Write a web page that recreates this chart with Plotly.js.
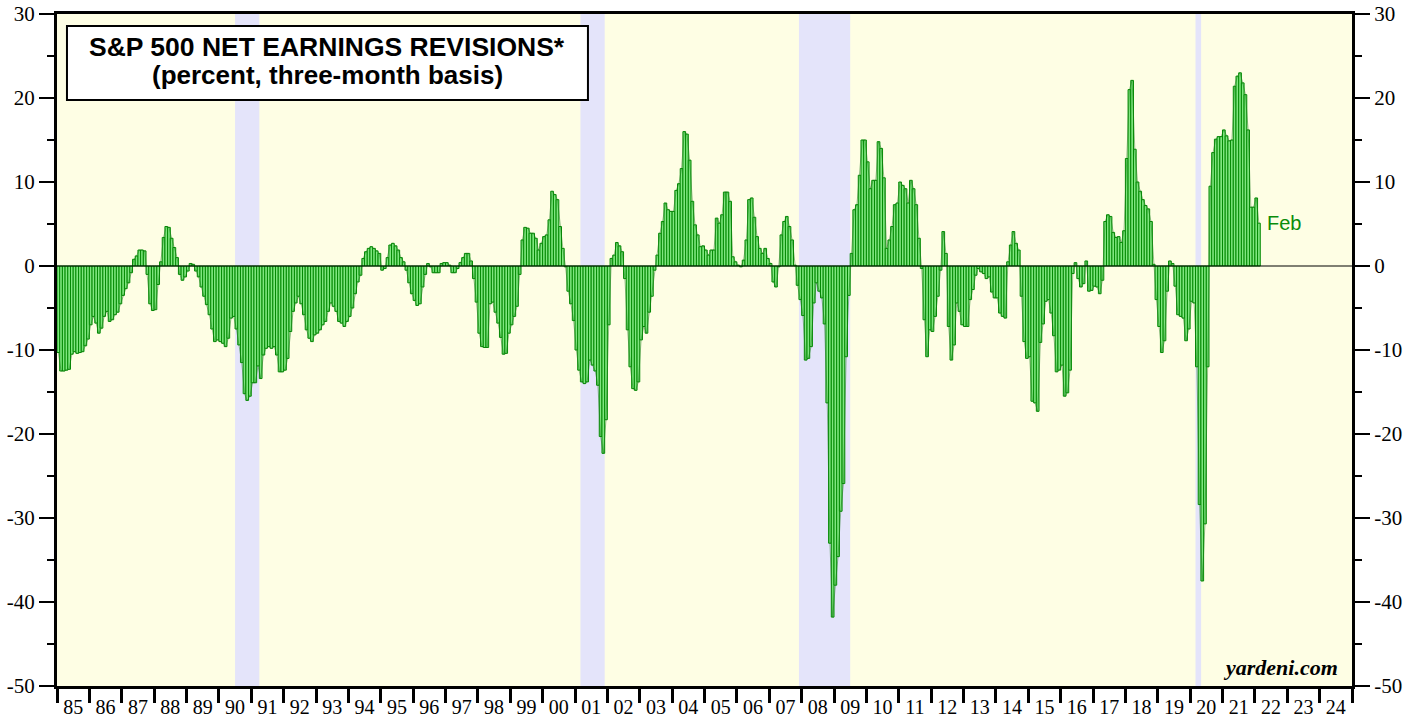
<!DOCTYPE html>
<html>
<head>
<meta charset="utf-8">
<script src="https://cdn.plot.ly/plotly-3.0.1.min.js"></script>
<style>
  html, body { margin: 0; padding: 0; background: #ffffff; }
  #chart { width: 1417px; height: 719px; }
</style>
</head>
<body>
<div id="chart"></div>
<script>
// Monthly S&P 500 net earnings revisions (percent, three-month basis), Jan 1985 - Feb 2022
const rev1985 = [-10.3, -12.5, -12.5, -12.4, -12.3, -10.5, -10.2, -10.4, -10.3, -10.2, -9.5, -8.7];
const rev1986 = [-7.0, -6.0, -6.8, -8.0, -7.4, -6.0, -5.4, -6.6, -6.4, -5.8, -5.5, -4.5];
const rev1987 = [-3.5, -2.7, -2.0, -0.8, 0.8, 1.2, 1.9, 1.9, 1.8, -1.0, -4.5, -5.3];
const rev1988 = [-5.2, -2.2, 0.5, 3.4, 4.7, 4.6, 3.3, 2.2, 1.0, -1.0, -1.7, -1.3];
const rev1989 = [-0.6, 0.3, 0.2, -0.6, -1.3, -2.5, -3.6, -4.6, -5.8, -7.5, -9.0, -8.8];
const rev1990 = [-9.0, -9.2, -9.6, -8.6, -6.2, -6.0, -7.5, -9.4, -11.5, -15.2, -16.0, -15.5];
const rev1991 = [-13.9, -13.9, -11.9, -13.4, -10.6, -9.8, -9.6, -9.8, -9.6, -10.6, -12.6, -12.6];
const rev1992 = [-12.4, -11.0, -7.8, -5.4, -4.4, -3.6, -4.5, -5.8, -7.6, -8.6, -9.0, -8.2];
const rev1993 = [-8.0, -7.6, -7.0, -6.6, -5.4, -4.4, -4.8, -5.4, -6.6, -6.8, -7.2, -6.6];
const rev1994 = [-6.0, -5.0, -3.3, -1.9, -1.1, 0.9, 1.7, 2.1, 2.3, 2.1, 1.8, 1.5];
const rev1995 = [-0.5, -0.3, 1.0, 2.5, 2.7, 2.4, 1.9, 1.0, 0.5, -0.5, -2.0, -3.3];
const rev1996 = [-4.1, -4.7, -4.5, -2.5, -1.0, 0.3, -0.1, -0.8, -0.8, -0.8, 0.3, 0.4];
const rev1997 = [0.4, 0.1, -0.8, -0.8, -0.3, 0.4, 1.0, 1.5, 1.5, 0.6, -1.5, -4.3];
const rev1998 = [-8.0, -9.6, -9.7, -9.7, -4.5, -4.3, -5.5, -6.8, -8.5, -10.5, -10.4, -8.0];
const rev1999 = [-7.0, -6.0, -4.8, -1.0, 3.1, 4.6, 4.5, 3.9, 3.9, 3.3, 1.9, 2.7];
const rev2000 = [3.5, 3.7, 5.5, 8.9, 8.5, 7.9, 4.7, 2.1, -0.1, -3.0, -4.5, -6.5];
const rev2001 = [-10.0, -12.4, -13.8, -14.0, -13.8, -11.2, -11.8, -12.5, -14.2, -20.3, -22.3, -18.3];
const rev2002 = [-7.0, 0.9, 1.3, 2.8, 2.4, 1.7, -1.5, -7.6, -12.0, -14.6, -14.8, -13.8];
const rev2003 = [-8.8, -7.2, -8.0, -5.5, -3.6, -0.5, 1.3, 3.9, 5.3, 7.5, 6.7, 6.5];
const rev2004 = [6.5, 9.0, 9.8, 11.6, 16.0, 15.7, 12.6, 7.7, 4.9, 3.7, 2.3, 2.4];
const rev2005 = [1.9, 1.3, 1.9, 1.9, 5.7, 5.1, 6.1, 8.8, 8.8, 7.7, 1.1, 0.5];
const rev2006 = [0.1, -0.1, 0.7, 3.1, 7.9, 8.1, 5.8, 3.5, 2.1, 1.5, 2.1, 0.9];
const rev2007 = [0.3, -1.9, -2.5, -0.1, 3.7, 5.3, 5.9, 4.7, 3.1, 0.1, -2.3, -4.0];
const rev2008 = [-5.9, -11.2, -11.0, -9.6, -4.4, -2.0, -3.0, -3.8, -6.9, -16.3, -33.0, -41.8];
const rev2009 = [-38.0, -34.6, -29.2, -25.9, -10.8, -3.5, 1.5, 6.7, 7.3, 10.8, 15.0, 15.0];
const rev2010 = [12.4, 9.2, 10.2, 10.2, 14.8, 14.0, 10.5, 2.1, 3.1, 4.7, 7.3, 7.5];
const rev2011 = [10.0, 9.6, 9.2, 7.5, 10.2, 9.2, 7.3, 3.3, -0.3, -6.4, -10.8, -7.6];
const rev2012 = [-7.8, -6.0, -3.6, -0.5, 4.1, 1.5, -7.2, -11.2, -9.4, -4.4, -5.4, -7.0];
const rev2013 = [-7.2, -7.2, -4.0, -2.8, -1.1, -0.3, -0.7, -0.9, -1.5, -1.3, -3.1, -3.8];
const rev2014 = [-3.8, -5.6, -6.0, -6.2, 0.5, 2.5, 4.1, 2.7, 1.9, -3.6, -9.0, -11.0];
const rev2015 = [-10.8, -16.1, -16.3, -17.3, -9.1, -6.9, -4.2, -4.0, -5.6, -8.3, -12.6, -12.4];
const rev2016 = [-11.8, -15.5, -15.1, -12.4, -0.9, 0.4, -1.5, -2.5, -2.1, 0.6, -3.0, -2.9];
const rev2017 = [-2.4, -2.5, -3.3, -1.7, 5.3, 6.1, 5.9, 4.0, 3.4, 3.5, 2.8, 4.2];
const rev2018 = [12.8, 21.0, 22.1, 13.9, 10.0, 8.9, 7.9, 7.2, 6.8, 5.3, 0.2, -4.0];
const rev2019 = [-7.2, -10.3, -8.9, -3.0, 0.6, 0.3, -2.4, -5.8, -6.0, -6.2, -8.9, -7.5];
const rev2020 = [-4.2, -4.4, -12.0, -28.4, -37.5, -30.7, -12.0, 9.5, 13.5, 15.1, 15.4, 15.4];
const rev2021 = [16.2, 15.5, 14.9, 15.0, 21.4, 22.6, 23.0, 21.8, 20.4, 16.2, 7.0, 7.0];
const rev2022 = [8.1, 5.1];

const firstYear = 1985;
const yearly = [rev1985, rev1986, rev1987, rev1988, rev1989, rev1990, rev1991, rev1992, rev1993,
  rev1994, rev1995, rev1996, rev1997, rev1998, rev1999, rev2000, rev2001, rev2002, rev2003,
  rev2004, rev2005, rev2006, rev2007, rev2008, rev2009, rev2010, rev2011, rev2012, rev2013,
  rev2014, rev2015, rev2016, rev2017, rev2018, rev2019, rev2020, rev2021, rev2022];

// Axis tick labels
const yearLabels = ['85','86','87','88','89','90','91','92','93','94','95','96','97','98','99',
  '00','01','02','03','04','05','06','07','08','09','10','11','12','13','14','15','16','17',
  '18','19','20','21','22','23','24'];
const yTickVals = [-50, -40, -30, -20, -10, 0, 10, 20, 30];
const yTickText = ['-50', '-40', '-30', '-20', '-10', '0', '10', '20', '30'];

// Recession periods [start, end] in fractional years
const recessions = [[1990.5, 1991.25], [2001.167, 2001.917], [2007.917, 2009.5], [2020.167, 2020.34]];

const titleLine1 = 'S&amp;P 500 NET EARNINGS REVISIONS*';
const titleLine2 = '(percent, three-month basis)';
const lastLabel = 'Feb';
const sourceLabel = 'yardeni.com';

// Build monthly x positions (mid-month as fractional year)
const xs = [], ys = [];
yearly.forEach((arr, i) => {
  arr.forEach((v, m) => {
    xs.push(firstYear + i + (m + 0.5) / 12);
    ys.push(v);
  });
});

const labelPos = yearLabels.map((_, i) => firstYear + i + 0.5);

const serif = 'Liberation Serif, Times New Roman, serif';
const sans = 'Liberation Sans, Arial, Helvetica, sans-serif';

const traces = [
  {
    type: 'bar', x: xs, y: ys, width: 1 / 12,
    marker: { color: '#7fe67f', line: { color: '#038a03', width: 1 } },
    hoverinfo: 'skip', showlegend: false
  },
  {
    type: 'scatter', mode: 'lines', x: xs, y: ys,
    line: { color: 'rgba(20,120,20,0.45)', width: 1 },
    hoverinfo: 'skip', showlegend: false
  },
  {
    type: 'scatter', mode: 'markers', x: [firstYear], y: [0], yaxis: 'y2',
    marker: { opacity: 0 }, hoverinfo: 'skip', showlegend: false
  }
];

const shapes = recessions.map(r => ({
  type: 'rect', xref: 'x', yref: 'paper', x0: r[0], x1: r[1], y0: 0, y1: 1,
  fillcolor: '#e4e4fa', line: { width: 0 }, layer: 'below'
}));
shapes.push({
  type: 'line', xref: 'paper', yref: 'y', x0: 0, x1: 1, y0: 0, y1: 0,
  line: { color: '#000', width: 1.2 }, layer: 'above'
});
shapes.push({
  type: 'rect', xref: 'paper', yref: 'paper', x0: 0.0077, x1: 0.410, y0: 0.872, y1: 0.982,
  fillcolor: '#ffffff', line: { color: '#000', width: 2 }, layer: 'above'
});

const yTickBase = {
  range: [-50, 30], tickmode: 'array', tickvals: yTickVals, ticktext: yTickText,
  ticks: 'outside', ticklen: 15, tickwidth: 2, tickcolor: '#000',
  minor: { tickmode: 'linear', tick0: -50, dtick: 5, ticks: 'outside', ticklen: 7, tickwidth: 2, tickcolor: '#000', showgrid: false },
  showgrid: false, zeroline: false, showline: true, linecolor: '#000', linewidth: 3,
  tickfont: { family: serif, size: 21, color: '#000' }, fixedrange: true
};

const layout = {
  width: 1417, height: 719,
  margin: { l: 57, r: 65, t: 14, b: 33, pad: 0 },
  paper_bgcolor: '#ffffff', plot_bgcolor: '#fefee4',
  bargap: 0, showlegend: false,
  xaxis: {
    range: [firstYear, firstYear + yearLabels.length],
    tickmode: 'array', tickvals: labelPos, ticktext: yearLabels,
    ticks: 'outside', ticklen: 1, tickcolor: 'rgba(0,0,0,0)',
    minor: { tickmode: 'linear', tick0: firstYear, dtick: 1, ticks: 'outside', ticklen: 14, tickwidth: 3, tickcolor: '#000', showgrid: false },
    showgrid: false, zeroline: false, showline: true, mirror: true, linecolor: '#000', linewidth: 3,
    tickfont: { family: serif, size: 20, color: '#000' }, fixedrange: true
  },
  yaxis: Object.assign({}, yTickBase, { side: 'left' }),
  yaxis2: Object.assign({}, yTickBase, { side: 'right', overlaying: 'y' }),
  shapes: shapes,
  annotations: [
    {
      xref: 'paper', yref: 'paper', x: 0.2085, y: (686 - 47) / 672, xanchor: 'center', yanchor: 'middle',
      text: '<b>' + titleLine1 + '</b>', showarrow: false,
      font: { family: sans, size: 26.5, color: '#000' }
    },
    {
      xref: 'paper', yref: 'paper', x: 0.2085, y: (686 - 75) / 672, xanchor: 'center', yanchor: 'middle',
      text: '<b>' + titleLine2 + '</b>', showarrow: false,
      font: { family: sans, size: 26, color: '#000' }
    },
    {
      xref: 'x', yref: 'y', x: xs[xs.length - 1] + 0.2, y: ys[ys.length - 1],
      xanchor: 'left', yanchor: 'middle', text: lastLabel, showarrow: false,
      font: { family: sans, size: 20, color: '#0a8c0a' }
    },
    {
      xref: 'paper', yref: 'paper', x: 0.991, y: 0.006, xanchor: 'right', yanchor: 'bottom',
      text: '<b><i>' + sourceLabel + '</i></b>', showarrow: false,
      font: { family: serif, size: 22, color: '#000' }
    }
  ]
};

Plotly.newPlot('chart', traces, layout, { staticPlot: true, displayModeBar: false });
</script>
</body>
</html>
